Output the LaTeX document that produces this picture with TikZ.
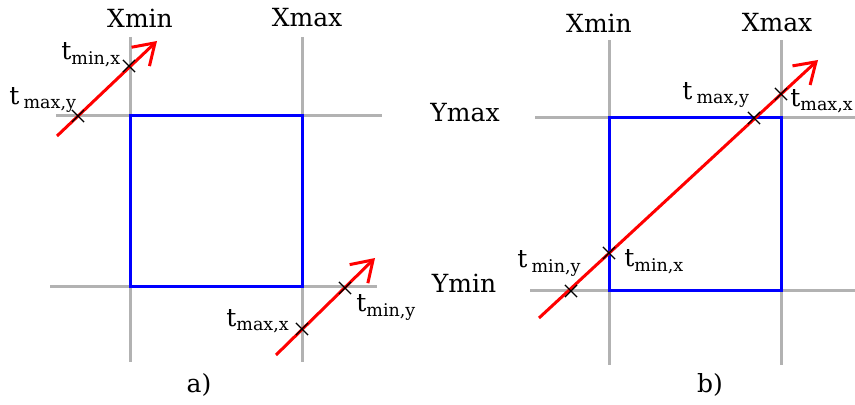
\documentclass[tikz,border=0pt]{standalone}
\usepackage{tikz}
\usepackage{amsmath}
\usepackage{fontspec}
\setmainfont{DejaVu Serif}
\usetikzlibrary{arrows.meta,shapes.misc}

\begin{document}
\begin{tikzpicture}[x=0.5pt,y=-0.5pt,
  guide/.style={draw=gray!60,line width=1.5pt},
  window/.style={draw=blue,line width=1.5pt},
  ray/.style={draw=red,line width=1.5pt,-{Straight Barb[length=10pt,width=13pt]}},
  hit/.style={draw=black,cross out,line width=0.6pt,minimum size=5.5pt,inner sep=0pt},
  lbl/.style={font=\fontsize{12.5}{15}\selectfont,inner sep=0pt},
  tlbl/.style={lbl,anchor=base west}]
\useasboundingbox (0,0) rectangle (855,405);
% a) both hits outside
\draw[guide] (130,37) -- (130,362);%xmin
\draw[guide] (302,37) -- (302,362);%xmax
\draw[guide] (56,116) -- (382,116);%ymax
\draw[guide] (50,287) -- (377,287);%ymin
\draw[window] (130,116) rectangle (302,287);
\coordinate (ra1) at (57,136);
\coordinate (rb1) at (157,41);
\draw[ray] (ra1) -- (rb1);
\node[hit] (ha1) at (78,116) {};
\node[hit] (hb1) at (129,66) {};
\coordinate (ra2) at (276,355);
\coordinate (rb2) at (375,258);
\draw[ray] (ra2) -- (rb2);
\node[hit] (ha2) at (302,329) {};
\node[hit] (hb2) at (345,288) {};
\node[lbl] (xmina) at (140,18) {Xmin};
\node[lbl] (xmaxa) at (307,18) {Xmax};
\node[tlbl] (tmaxya) at (9,105) {t\,$_{\text{max,y}}$};
\node[tlbl] (tminxa) at (61,60) {t$_{\text{min,x}}$};
\node[tlbl] (tmaxxa) at (226,327) {t$_{\text{max,x}}$};
\node[tlbl] (tminya) at (356,312) {t$_{\text{min,y}}$};
\node[lbl] (capa) at (199,385) {a)};
% b) ray crossing the window
\draw[guide] (609,40) -- (609,365);%xmin
\draw[guide] (781,40) -- (781,365);%xmax
\draw[guide] (535,118) -- (855,118);%ymax
\draw[guide] (530,291) -- (855,291);%ymin
\draw[window] (609,118) rectangle (781,291);
\coordinate (ra3) at (539,318);
\coordinate (rb3) at (818,60);
\draw[ray] (ra3) -- (rb3);
\node[hit] (hc1) at (571,291) {};
\node[hit] (hc2) at (609,253) {};
\node[hit] (hc3) at (754,118) {};
\node[hit] (hc4) at (781,94) {};
\node[lbl] (xminb) at (599,23) {Xmin};
\node[lbl] (xmaxb) at (777,23) {Xmax};
\node[lbl] (ymaxb) at (465,113) {Ymax};
\node[lbl] (yminb) at (464,283) {Ymin};
\node[tlbl] (tmaxyb) at (682,100) {t\,$_{\text{max,y}}$};
\node[tlbl] (tmaxxb) at (790,107) {t$_{\text{max,x}}$};
\node[tlbl] (tminyb) at (517,268) {t\,$_{\text{min,y}}$};
\node[tlbl] (tminxb) at (624,267) {t$_{\text{min,x}}$};
\node[lbl] (capb) at (710,385) {b)};
\end{tikzpicture}
\end{document}
